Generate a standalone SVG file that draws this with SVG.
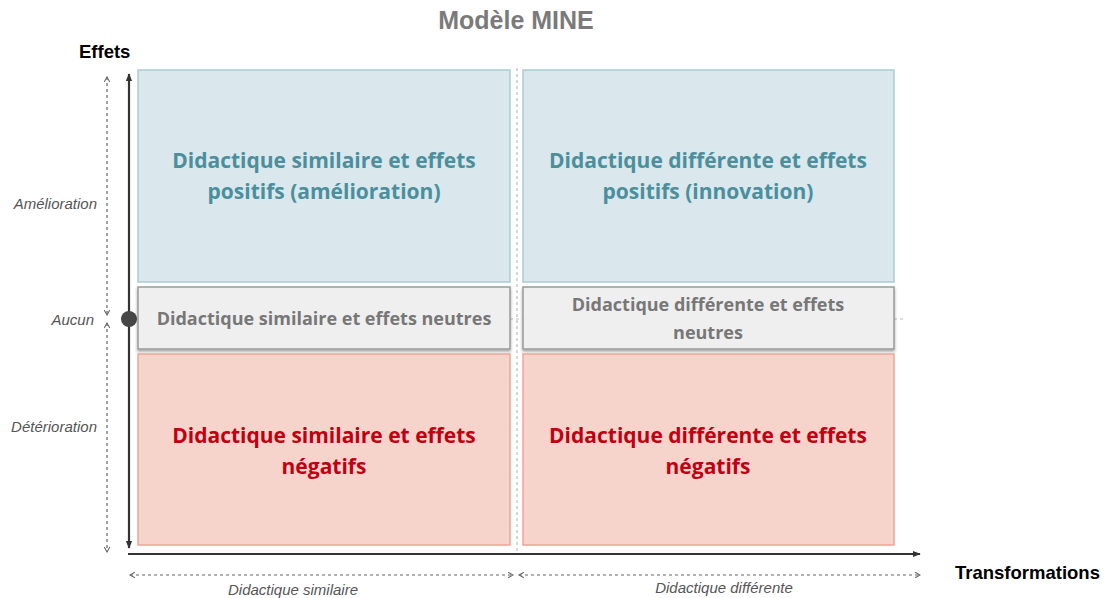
<svg xmlns="http://www.w3.org/2000/svg" width="1105" height="598" viewBox="0 0 1105 598">
<style>
.title{font-family:"Liberation Sans",Arial,sans-serif;font-weight:bold;font-size:25px;fill:#7a7a7a}
.axis{font-family:"Liberation Sans",Arial,sans-serif;font-weight:bold;font-size:18.5px;fill:#000}
.lab{font-family:"Liberation Sans",Arial,sans-serif;font-style:italic;font-size:15px;fill:#555}
.bt{font-family:"Open Sans",sans-serif;font-weight:bold;font-size:21px;text-anchor:middle}
.blue{fill:#dae7ec;stroke:#a9cdd3;stroke-width:1.5}
.gray{fill:#efefef;stroke:#9a9a9a;stroke-width:1.5}
.pink{fill:#f6d3cb;stroke:#eba796;stroke-width:1.5}
.tb{fill:#4b8f9c}.tg{fill:#777}.tr{fill:#c00012}
.dash{stroke:#666;stroke-width:1.2;stroke-dasharray:3 3;fill:none}
.lgd{stroke:#bbb;stroke-width:1.2;stroke-dasharray:3 3;fill:none}
</style>
<defs>
<marker id="ah" viewBox="0 0 10 10" refX="9" refY="5" markerWidth="8" markerHeight="8" orient="auto-start-reverse" markerUnits="userSpaceOnUse"><path d="M0,1 L10,5 L0,9 Z" fill="#333"/></marker>
<marker id="oh" viewBox="0 0 10 10" refX="9" refY="5" markerWidth="7" markerHeight="7" orient="auto-start-reverse" markerUnits="userSpaceOnUse"><path d="M2,1 L9,5 L2,9" fill="none" stroke="#666" stroke-width="1.5"/></marker>
<filter id="sh" x="-5%" y="-20%" width="110%" height="150%"><feDropShadow dx="0" dy="2" stdDeviation="1.5" flood-color="#000" flood-opacity="0.35"/></filter>
</defs>
<text class="title" x="516" y="29" text-anchor="middle">Modèle MINE</text>
<text class="axis" x="79" y="58">Effets</text>
<text class="axis" x="955" y="579">Transformations</text>
<g id="connectors">
<line class="lgd" x1="517" y1="68" x2="517" y2="552"/>
<line class="lgd" x1="138" y1="319" x2="905" y2="319"/>
<line x1="129" y1="74" x2="129" y2="548" stroke="#333" stroke-width="2.2" marker-start="url(#ah)" marker-end="url(#ah)"/>
<line x1="128" y1="554" x2="920" y2="554" stroke="#333" stroke-width="2.2" marker-end="url(#ah)"/>
<line class="dash" x1="107" y1="77" x2="107" y2="315" marker-start="url(#oh)" marker-end="url(#oh)"/>
<line class="dash" x1="107" y1="323" x2="107" y2="552" marker-start="url(#oh)" marker-end="url(#oh)"/>
<line class="dash" x1="130" y1="575" x2="513" y2="575" marker-start="url(#oh)" marker-end="url(#oh)"/>
<line class="dash" x1="519" y1="575" x2="920" y2="575" marker-start="url(#oh)" marker-end="url(#oh)"/>
<circle cx="129" cy="319" r="8" fill="#474747"/>
</g>
<text class="lab" x="97" y="209" text-anchor="end">Amélioration</text>
<text class="lab" x="94" y="325" text-anchor="end">Aucun</text>
<text class="lab" x="97" y="432" text-anchor="end">Détérioration</text>
<text class="lab" x="293" y="595" text-anchor="middle">Didactique similaire</text>
<text class="lab" x="724" y="593" text-anchor="middle">Didactique différente</text>
<g id="n-sim-pos">
<rect class="blue" x="138" y="70" width="372" height="212"/>
<text class="bt tb" x="324" y="168">Didactique similaire et effets</text>
<text class="bt tb" x="324" y="199">positifs (amélioration)</text>
</g>
<g id="n-dif-pos">
<rect class="blue" x="523" y="70" width="371" height="212"/>
<text class="bt tb" x="708" y="168">Didactique différente et effets</text>
<text class="bt tb" x="708" y="199">positifs (innovation)</text>
</g>
<g id="n-sim-neu">
<rect class="gray" x="138" y="287" width="372" height="62" filter="url(#sh)"/>
<text class="bt tg" x="324" y="325" style="font-size:18px">Didactique similaire et effets neutres</text>
</g>
<g id="n-dif-neu">
<rect class="gray" x="523" y="287" width="371" height="62" filter="url(#sh)"/>
<text class="bt tg" x="708" y="311" style="font-size:18px">Didactique différente et effets</text>
<text class="bt tg" x="708" y="339" style="font-size:18px">neutres</text>
</g>
<g id="n-sim-neg">
<rect class="pink" x="138" y="354" width="372" height="191"/>
<text class="bt tr" x="324" y="443">Didactique similaire et effets</text>
<text class="bt tr" x="324" y="474">négatifs</text>
</g>
<g id="n-dif-neg">
<rect class="pink" x="523" y="354" width="371" height="191"/>
<text class="bt tr" x="708" y="443">Didactique différente et effets</text>
<text class="bt tr" x="708" y="474">négatifs</text>
</g>
</svg>
